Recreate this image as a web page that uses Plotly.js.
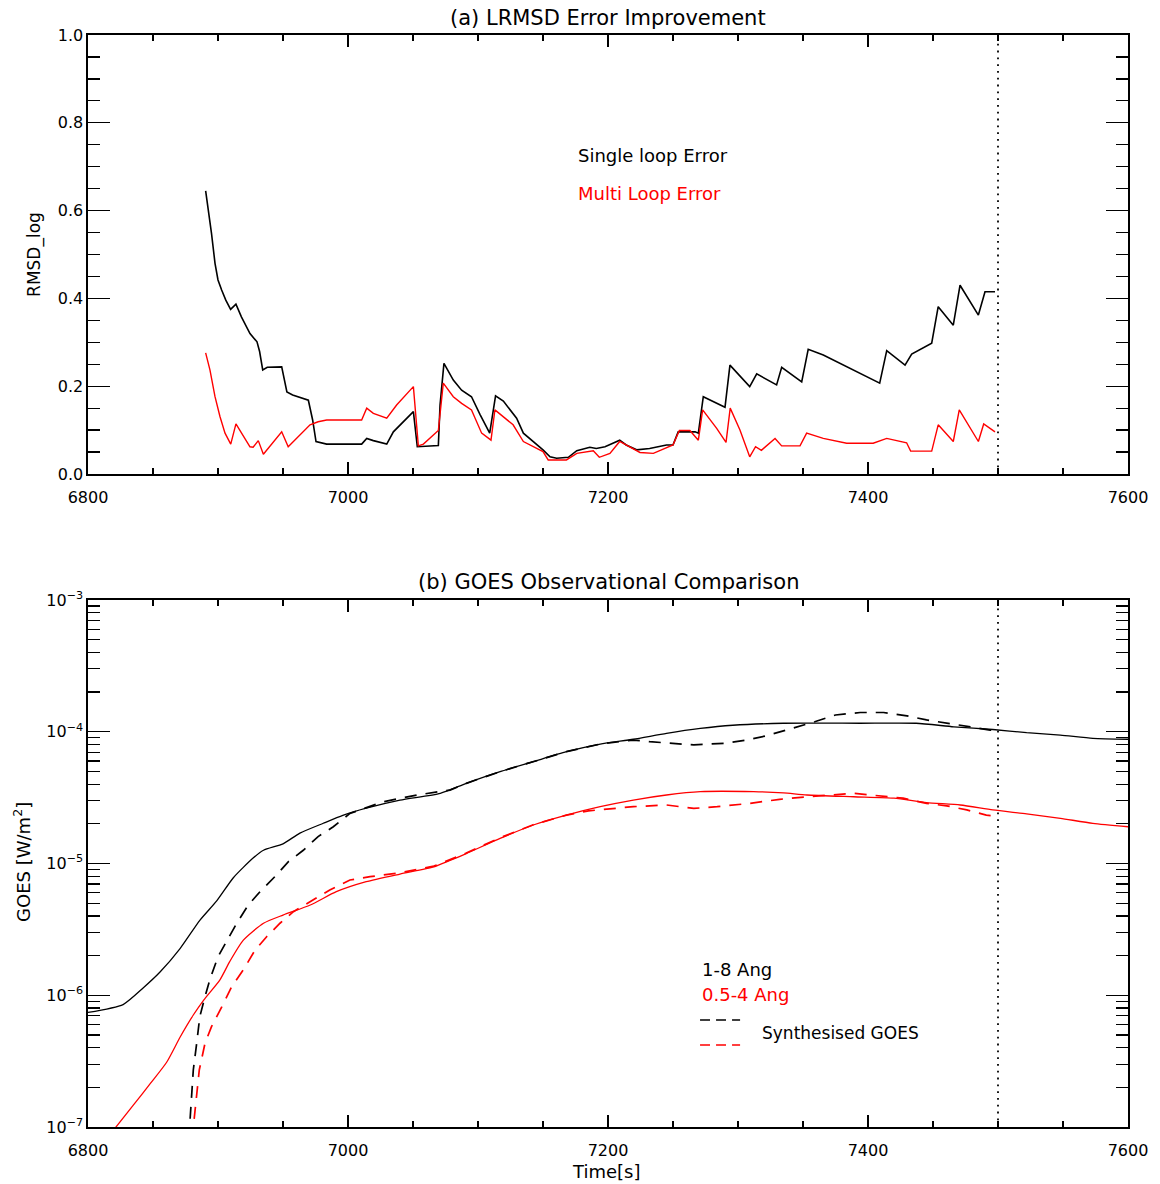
<!DOCTYPE html>
<html>
<head>
<meta charset="utf-8">
<script src="https://cdn.plot.ly/plotly-3.0.1.min.js"></script>
<style>
  html, body { margin: 0; padding: 0; background: #fff; }
  #chart { width: 1160px; height: 1184px; }
</style>
</head>
<body>
<div id="chart"></div>
<script>
// ---------- Panel (a): LRMSD error ----------
const singleT = [6890.5, 6892.6, 6895, 6897.7, 6900, 6902.8, 6906, 6909.7, 6913.8, 6918, 6924.6, 6930, 6932, 6934.4, 6937.9, 6949, 6953, 6957.4, 6969.5, 6972.8, 6975.4, 6983.6, 7010.5, 7014.4, 7019.5, 7029.8, 7034.9, 7050.3, 7053.3, 7069.5, 7070.8, 7073.8, 7081, 7087.4, 7095, 7101.5, 7109, 7113.5, 7119.5, 7129.7, 7134.9, 7150, 7155.4, 7160.5, 7169.5, 7176, 7186, 7191, 7197.7, 7209, 7214, 7222, 7232, 7245, 7250, 7254, 7267, 7269.5, 7273.3, 7290, 7293.8, 7309, 7314.4, 7329.7, 7333.6, 7349, 7354, 7365.6, 7409, 7414.4, 7428.5, 7433.6, 7449, 7454, 7465.6, 7470.8, 7484.9, 7490, 7497.7];
const singleErr = [0.645, 0.601, 0.548, 0.48, 0.442, 0.419, 0.396, 0.375, 0.387, 0.358, 0.32, 0.301, 0.279, 0.237, 0.243, 0.244, 0.187, 0.18, 0.168, 0.123, 0.074, 0.068, 0.068, 0.081, 0.076, 0.068, 0.096, 0.142, 0.062, 0.065, 0.157, 0.252, 0.214, 0.191, 0.176, 0.136, 0.093, 0.178, 0.166, 0.127, 0.093, 0.055, 0.039, 0.036, 0.038, 0.053, 0.061, 0.058, 0.062, 0.077, 0.066, 0.055, 0.058, 0.066, 0.066, 0.096, 0.096, 0.093, 0.176, 0.152, 0.248, 0.199, 0.228, 0.203, 0.243, 0.21, 0.284, 0.271, 0.207, 0.281, 0.248, 0.273, 0.298, 0.381, 0.339, 0.43, 0.362, 0.415, 0.415];

const multiT = [6890.5, 6893.8, 6897.7, 6901.5, 6905.4, 6909.8, 6913.8, 6918, 6924.6, 6927, 6931, 6934.9, 6949, 6954, 6970.8, 6977, 6983.6, 7010.5, 7014.4, 7019.5, 7029.8, 7037.4, 7050.3, 7054.1, 7058, 7069.5, 7073.3, 7081, 7087.4, 7095, 7102.8, 7110, 7113, 7127, 7134.9, 7150, 7154, 7168, 7176, 7188.7, 7193.3, 7201.5, 7209, 7224.6, 7234.9, 7250, 7254.9, 7263, 7269.5, 7272.8, 7283.6, 7290.8, 7294, 7301.5, 7309, 7313.5, 7318, 7328.5, 7333.6, 7347.7, 7352.8, 7365.6, 7383.6, 7404, 7414.4, 7429.7, 7432.8, 7449, 7454, 7465.6, 7470.2, 7484.9, 7489, 7497.7];
const multiErr = [0.276, 0.237, 0.176, 0.131, 0.093, 0.068, 0.114, 0.093, 0.062, 0.061, 0.076, 0.045, 0.096, 0.062, 0.112, 0.119, 0.123, 0.123, 0.15, 0.138, 0.127, 0.157, 0.199, 0.064, 0.068, 0.099, 0.207, 0.176, 0.161, 0.146, 0.093, 0.077, 0.146, 0.112, 0.074, 0.051, 0.032, 0.032, 0.047, 0.053, 0.038, 0.047, 0.074, 0.049, 0.047, 0.066, 0.099, 0.099, 0.077, 0.146, 0.104, 0.072, 0.15, 0.1, 0.039, 0.062, 0.054, 0.081, 0.064, 0.064, 0.093, 0.081, 0.07, 0.07, 0.081, 0.071, 0.052, 0.052, 0.112, 0.074, 0.146, 0.074, 0.114, 0.096];

// ---------- Panel (b): GOES flux [W/m^2] ----------
const obsLongT = [6800, 6827, 6842.6, 6855.4, 6870.8, 6886, 6899, 6911.8, 6927, 6935, 6950, 6963, 6981, 6996, 7014, 7040, 7071, 7091, 7117, 7142.5, 7168, 7194, 7219.5, 7245, 7271, 7296, 7335, 7394, 7437, 7466, 7496, 7522, 7548, 7573, 7600];
const obsLong = [7.4e-7, 8.5e-7, 1.14e-6, 1.5e-6, 2.26e-6, 3.7e-6, 5.2e-6, 7.8e-6, 1.1e-5, 1.26e-5, 1.41e-5, 1.7e-5, 2.02e-5, 2.32e-5, 2.63e-5, 3.03e-5, 3.41e-5, 4.06e-5, 4.98e-5, 5.93e-5, 7.06e-5, 8.07e-5, 8.77e-5, 9.73e-5, 1.06e-4, 1.12e-4, 1.16e-4, 1.16e-4, 1.16e-4, 1.09e-4, 1.04e-4, 9.84e-5, 9.44e-5, 8.91e-5, 8.77e-5];

const synLongT = [6877.5, 6879.8, 6881, 6883.6, 6886, 6890, 6894, 6900, 6906.7, 6914.4, 6923.3, 6932.3, 6945, 6954, 6965.6, 6977, 6988.7, 7001.5, 7027, 7053, 7078.5, 7091, 7117, 7142.5, 7168, 7194, 7219.5, 7232, 7253, 7266, 7289, 7307, 7322, 7341, 7359, 7375, 7394, 7412, 7430, 7445, 7462, 7494, 7500];
const synLong = [8e-8, 1.7e-7, 2.71e-7, 4.32e-7, 6.87e-7, 9.75e-7, 1.34e-6, 1.96e-6, 2.55e-6, 3.52e-6, 4.84e-6, 6.11e-6, 8.18e-6, 1.03e-5, 1.26e-5, 1.6e-5, 1.9e-5, 2.4e-5, 2.94e-5, 3.31e-5, 3.61e-5, 4.06e-5, 4.98e-5, 5.93e-5, 7.06e-5, 8.07e-5, 8.65e-5, 8.41e-5, 8.17e-5, 7.94e-5, 8.17e-5, 8.65e-5, 9.33e-5, 1.05e-4, 1.19e-4, 1.34e-4, 1.4e-4, 1.4e-4, 1.32e-4, 1.23e-4, 1.16e-4, 1.03e-4, 1.0e-4];

const obsShortT = [6819, 6835, 6848, 6860.5, 6871, 6881, 6889, 6901.5, 6909, 6919.5, 6935, 6950, 6971, 6991, 7014, 7040, 7066, 7078, 7091, 7117, 7142.5, 7168, 7194, 7219.5, 7245, 7271, 7312, 7335, 7353, 7389, 7420, 7445, 7471, 7496, 7522, 7548, 7573, 7600];
const obsShort = [9.3e-8, 1.47e-7, 2.14e-7, 3.1e-7, 4.84e-7, 7.08e-7, 9.2e-7, 1.31e-6, 1.8e-6, 2.62e-6, 3.52e-6, 4.06e-6, 4.84e-6, 6.11e-6, 7.28e-6, 8.32e-6, 9.42e-6, 1.05e-5, 1.19e-5, 1.55e-5, 1.96e-5, 2.33e-5, 2.7e-5, 3.03e-5, 3.31e-5, 3.51e-5, 3.51e-5, 3.43e-5, 3.31e-5, 3.21e-5, 3.13e-5, 2.9e-5, 2.78e-5, 2.55e-5, 2.38e-5, 2.2e-5, 2.02e-5, 1.9e-5];

const synShortT = [6880, 6881, 6883, 6885.6, 6890, 6895, 6903, 6910.5, 6919.5, 6928.5, 6937.4, 6947.7, 6958, 6971, 6986, 7001.5, 7017, 7040, 7066, 7091, 7117, 7142.5, 7168, 7185, 7204, 7219.5, 7245, 7266, 7284, 7309, 7332, 7353, 7389, 7409, 7427, 7445, 7460.5, 7476, 7491, 7498];
const synShort = [8e-8, 1.0e-7, 1.7e-7, 2.71e-7, 4.32e-7, 5.77e-7, 8.18e-7, 1.16e-6, 1.56e-6, 2.2e-6, 2.78e-6, 3.52e-6, 4.31e-6, 5.13e-6, 6.3e-6, 7.5e-6, 7.94e-6, 8.5e-6, 9.55e-6, 1.2e-5, 1.57e-5, 1.97e-5, 2.33e-5, 2.51e-5, 2.62e-5, 2.7e-5, 2.78e-5, 2.62e-5, 2.7e-5, 2.86e-5, 3.07e-5, 3.21e-5, 3.41e-5, 3.25e-5, 3.13e-5, 2.86e-5, 2.74e-5, 2.55e-5, 2.33e-5, 2.29e-5];

// ---------- Ticks / labels ----------
const xTickVals = [6800, 7000, 7200, 7400, 7600];
const xTickText = ['6800', '7000', '7200', '7400', '7600'];
const yaTickVals = [0.0, 0.2, 0.4, 0.6, 0.8, 1.0];
const yaTickText = ['0.0', '0.2', '0.4', '0.6', '0.8', '1.0'];
const ybTickVals = [1e-7, 1e-6, 1e-5, 1e-4, 1e-3];
const ybTickText = ['10<sup>−7</sup>', '10<sup>−6</sup>', '10<sup>−5</sup>', '10<sup>−4</sup>', '10<sup>−3</sup>'];
const markerTime = 7500;

// minor log ticks 2..9 per decade
const ybMinor = [];
for (let e = -7; e < -3; e++) for (let m = 2; m <= 9; m++) ybMinor.push(m * Math.pow(10, e));

const FONT = 'DejaVu Sans, Liberation Sans, sans-serif';
const BLACK = '#000000', RED = '#ff0000';

const traces = [
  {x: singleT, y: singleErr, type: 'scatter', mode: 'lines', line: {color: BLACK, width: 1.6}, xaxis: 'x', yaxis: 'y'},
  {x: multiT, y: multiErr, type: 'scatter', mode: 'lines', line: {color: RED, width: 1.4}, xaxis: 'x', yaxis: 'y'},
  {x: obsLongT, y: obsLong, type: 'scatter', mode: 'lines', line: {color: BLACK, width: 1.3, shape: 'spline', smoothing: 0.6}, xaxis: 'x2', yaxis: 'y2'},
  {x: obsShortT, y: obsShort, type: 'scatter', mode: 'lines', line: {color: RED, width: 1.3, shape: 'spline', smoothing: 0.6}, xaxis: 'x2', yaxis: 'y2'},
  {x: synLongT, y: synLong, type: 'scatter', mode: 'lines', line: {color: BLACK, width: 1.7, dash: '12px,9px'}, xaxis: 'x2', yaxis: 'y2'},
  {x: synShortT, y: synShort, type: 'scatter', mode: 'lines', line: {color: RED, width: 1.7, dash: '12px,9px'}, xaxis: 'x2', yaxis: 'y2'}
];

function xAxis(anchor) {
  return {
    anchor: anchor, domain: [0, 1], range: [6800, 7600],
    tickmode: 'array', tickvals: xTickVals, ticktext: xTickText,
    ticks: 'inside', ticklen: 12, tickwidth: 1.3, tickcolor: BLACK,
    ticklabelstandoff: 8,
    minor: {tickmode: 'linear', tick0: 6800, dtick: 50, ticks: 'inside', ticklen: 6, tickwidth: 1.2, tickcolor: BLACK},
    mirror: 'allticks', showline: true, linecolor: BLACK, linewidth: 1.6,
    showgrid: false, zeroline: false,
    tickfont: {family: FONT, size: 16, color: BLACK}
  };
}

const layout = {
  width: 1160, height: 1184,
  margin: {l: 88, r: 32, t: 35, b: 57},
  paper_bgcolor: '#ffffff', plot_bgcolor: '#ffffff',
  showlegend: false,
  font: {family: FONT, color: BLACK},
  xaxis: xAxis('y'),
  yaxis: {
    anchor: 'x', domain: [0.598, 1], range: [0, 1],
    tickmode: 'array', tickvals: yaTickVals, ticktext: yaTickText,
    ticks: 'inside', ticklen: 22, tickwidth: 1.3, tickcolor: BLACK,
    minor: {tickmode: 'linear', tick0: 0, dtick: 0.05, ticks: 'inside', ticklen: 12, tickwidth: 1.2, tickcolor: BLACK},
    mirror: 'allticks', showline: true, linecolor: BLACK, linewidth: 1.6,
    showgrid: false, zeroline: false,
    tickfont: {family: FONT, size: 16, color: BLACK}
  },
  xaxis2: xAxis('y2'),
  yaxis2: {
    anchor: 'x2', domain: [0, 0.4826], type: 'log', range: [-7, -3],
    tickmode: 'array', tickvals: ybTickVals, ticktext: ybTickText,
    ticks: 'inside', ticklen: 22, tickwidth: 1.3, tickcolor: BLACK,
    minor: {tickmode: 'array', tickvals: ybMinor, ticks: 'inside', ticklen: 12, tickwidth: 1.2, tickcolor: BLACK},
    mirror: 'allticks', showline: true, linecolor: BLACK, linewidth: 1.6,
    showgrid: false, zeroline: false,
    tickfont: {family: FONT, size: 16, color: BLACK}
  },
  shapes: [
    {type: 'line', xref: 'x', yref: 'y domain', x0: markerTime, x1: markerTime, y0: 0, y1: 1, line: {color: BLACK, width: 1.8, dash: '1.8px,5px'}},
    {type: 'line', xref: 'x2', yref: 'y2 domain', x0: markerTime, x1: markerTime, y0: 0, y1: 1, line: {color: BLACK, width: 1.8, dash: '1.8px,5px'}},
    {type: 'line', xref: 'paper', yref: 'paper', x0: 0.5885, x1: 0.6270, y0: 0.098, y1: 0.098, line: {color: BLACK, width: 1.7, dash: '10px,6px'}},
    {type: 'line', xref: 'paper', yref: 'paper', x0: 0.5885, x1: 0.6270, y0: 0.0751, y1: 0.0751, line: {color: RED, width: 1.7, dash: '10px,6px'}}
  ],
  annotations: [
    {text: '(a) LRMSD Error Improvement', xref: 'paper', yref: 'paper', x: 0.5, y: 1.0156, xanchor: 'center', yanchor: 'middle', showarrow: false, font: {family: FONT, size: 21, color: BLACK}},
    {text: '(b) GOES Observational Comparison', xref: 'paper', yref: 'paper', x: 0.5, y: 0.4991, xanchor: 'center', yanchor: 'middle', showarrow: false, font: {family: FONT, size: 21, color: BLACK}},
    {text: 'RMSD_log', xref: 'paper', yref: 'paper', x: -0.051, y: 0.7995, xanchor: 'center', yanchor: 'middle', textangle: -90, showarrow: false, font: {family: FONT, size: 17, color: BLACK}},
    {text: 'GOES [W/m<sup>2</sup>]', xref: 'paper', yref: 'paper', x: -0.0635, y: 0.2427, xanchor: 'center', yanchor: 'middle', textangle: -90, showarrow: false, font: {family: FONT, size: 18, color: BLACK}},
    {text: 'Time[s]', xref: 'paper', yref: 'paper', x: 0.498, y: -0.0403, xanchor: 'center', yanchor: 'middle', showarrow: false, font: {family: FONT, size: 18, color: BLACK}},
    {text: 'Single loop Error', xref: 'paper', yref: 'paper', x: 0.469, y: 0.8892, xanchor: 'left', yanchor: 'middle', showarrow: false, font: {family: FONT, size: 18, color: BLACK}},
    {text: 'Multi Loop Error', xref: 'paper', yref: 'paper', x: 0.469, y: 0.8553, xanchor: 'left', yanchor: 'middle', showarrow: false, font: {family: FONT, size: 18, color: RED}},
    {text: '1-8 Ang', xref: 'paper', yref: 'paper', x: 0.5885, y: 0.1438, xanchor: 'left', yanchor: 'middle', showarrow: false, font: {family: FONT, size: 18, color: BLACK}},
    {text: '0.5-4 Ang', xref: 'paper', yref: 'paper', x: 0.5885, y: 0.1209, xanchor: 'left', yanchor: 'middle', showarrow: false, font: {family: FONT, size: 18, color: RED}},
    {text: 'Synthesised GOES', xref: 'paper', yref: 'paper', x: 0.646, y: 0.0861, xanchor: 'left', yanchor: 'middle', showarrow: false, font: {family: FONT, size: 17, color: BLACK}}
  ]
};

Plotly.newPlot('chart', traces, layout, {staticPlot: true, displayModeBar: false});
</script>
</body>
</html>
